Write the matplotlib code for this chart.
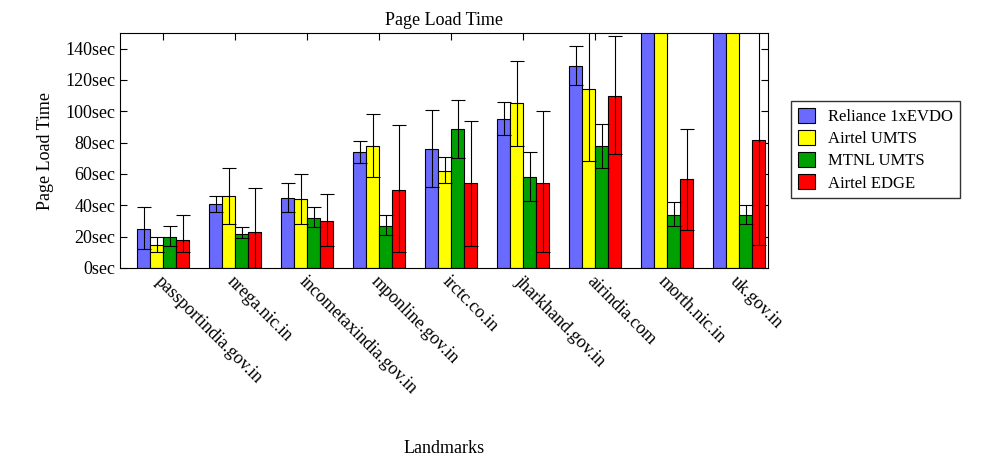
import matplotlib
matplotlib.use("Agg")
import matplotlib.pyplot as plt
import numpy as np

plt.rcParams['font.family'] = ['Liberation Serif', 'DejaVu Serif']

sites = ["passportindia.gov.in", "nrega.nic.in", "incometaxindia.gov.in", "mponline.gov.in",
         "irctc.co.in", "jharkhand.gov.in", "airindia.com", "morth.nic.in", "uk.gov.in"]
series = ["Reliance 1xEVDO", "Airtel UMTS", "MTNL UMTS", "Airtel EDGE"]
colors = ["#6a6aff", "#ffff00", "#00a000", "#ff0000"]

reliance = [25, 41, 45, 74, 76, 95, 129, 200, 200]
reliance_lo = [12, 36, 36, 67, 52, 85, 117, 190, 190]
reliance_hi = [39, 46, 54, 81, 101, 106, 142, 210, 210]
airtel_umts = [15, 46, 44, 78, 62, 105, 114, 200, 200]
airtel_umts_lo = [10, 28, 28, 58, 54, 78, 68, 190, 190]
airtel_umts_hi = [20, 64, 60, 98, 71, 132, 160, 210, 210]
mtnl = [20, 22, 32, 27, 89, 58, 78, 34, 34]
mtnl_lo = [14, 19, 26, 21, 70, 43, 64, 27, 28]
mtnl_hi = [27, 26, 39, 34, 107, 74, 92, 42, 40]
edge = [18, 23, 30, 50, 54, 54, 110, 57, 82]
edge_lo = [10, 0, 14, 10, 14, 10, 73, 24, 15]
edge_hi = [34, 51, 47, 91, 94, 100, 148, 89, 160]

vals = [reliance, airtel_umts, mtnl, edge]
los = [reliance_lo, airtel_umts_lo, mtnl_lo, edge_lo]
his = [reliance_hi, airtel_umts_hi, mtnl_hi, edge_hi]

fig = plt.figure(figsize=(9.95, 4.61), dpi=100)
ax = fig.add_axes([120/995, 1-268/461, 648/995, 235/461])
x = np.arange(len(sites))
w = 0.18
for i in range(4):
    xs = x + (i - 1.5) * w
    v = np.array(vals[i]); lo = np.array(los[i]); hi = np.array(his[i])
    ax.bar(xs, v, w, color=colors[i], edgecolor='black', linewidth=0.8, label=series[i], zorder=2)
    ax.errorbar(xs, v, yerr=[v - lo, hi - v], fmt='none', ecolor='black', elinewidth=0.8,
                capsize=5, capthick=0.8, zorder=3)
ax.set_xlim(-0.6, 8.4)
ax.set_ylim(0, 150)
ax.set_yticks(range(0, 141, 20))
ax.set_yticklabels([f"{t}sec" for t in range(0, 141, 20)], fontsize=13)
ax.set_xticks(x)
ax.set_xticklabels(sites, rotation=-45, ha='left', va='top', rotation_mode='anchor', fontsize=13)
ax.tick_params(direction='in', top=True, right=True, length=5)
ax.set_title("Page Load Time", fontsize=13, pad=6)
ax.set_ylabel("Page Load Time", fontsize=13, labelpad=8)
fig.text(444/995, 1-453/461, "Landmarks", ha='center', fontsize=13)
fig.legend(loc='upper left', bbox_to_anchor=(783/995, 1-93/461), fontsize=12, frameon=True,
           fancybox=False, edgecolor='black', handlelength=1.0, handleheight=1.0,
           borderpad=0.4, labelspacing=0.3)
fig.savefig("out.png", dpi=100)
